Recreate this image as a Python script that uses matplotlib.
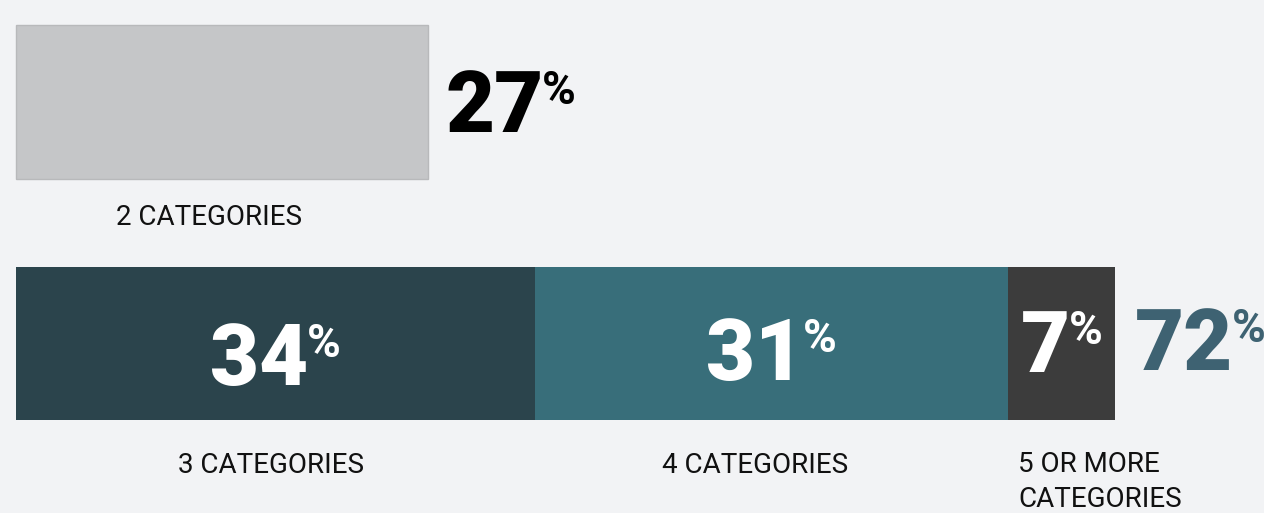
import matplotlib.pyplot as plt
from matplotlib.transforms import offset_copy

# share of respondents by number of categories
top_label = "2 CATEGORIES"
top_value = 27
segment_labels = ["3 CATEGORIES", "4 CATEGORIES", "5 OR MORE\nCATEGORIES"]
segment_values = [34, 31, 7]

BG = "#f2f3f5"
TOP_COLOR = "#c5c6c8"
SEGMENT_COLORS = ["#2b444c", "#386e7a", "#3c3c3c"]
TOTAL_COLOR = "#3e6272"
LABEL_FONT = ["Roboto", "DejaVu Sans"]
NUM_FONT = ["Roboto", "DejaVu Sans"]

PX_PER_PCT = 1099 / 72

fig = plt.figure(figsize=(12.64, 5.13), dpi=100, facecolor=BG)
ax = fig.add_axes([0, 0, 1, 1])
ax.set_facecolor(BG)
# x in percent, y in pixels from the top
ax.set_xlim(-16 / PX_PER_PCT, (1264 - 16) / PX_PER_PCT)
ax.set_ylim(513, 0)
ax.axis("off")

renderer = fig.canvas.get_renderer()


def pct_label(x, baseline, value, color, ha="center", pad=0):
    # big number followed by a small raised percent sign
    num = ax.text(x, baseline, str(value), fontsize=61, fontweight="black",
                  family=NUM_FONT, color=color, va="baseline", ha="left")
    sign = ax.text(x, baseline, "%", fontsize=33, fontweight="bold",
                   family=NUM_FONT, color=color, va="baseline", ha="left")
    w_num = num.get_window_extent(renderer).width - 1
    w_sign = sign.get_window_extent(renderer).width
    dx = -(w_num + w_sign) / 2 if ha == "center" else pad
    num.set_transform(offset_copy(ax.transData, fig, x=dx, y=0, units="dots"))
    sign.set_transform(offset_copy(ax.transData, fig, x=dx + w_num, y=28,
                                   units="dots"))


def cat_label(x, y, text, ha="center", dx=0):
    ax.annotate(text, (x, y), xytext=(dx * 0.72, 0),
                textcoords="offset points", fontsize=20, family=LABEL_FONT,
                color="#111111", ha=ha, va="top", linespacing=1.38)


# top bar: two categories
ax.barh(102, top_value, height=154, left=0, color=TOP_COLOR,
        edgecolor="#b8b9bb", linewidth=1)
pct_label(top_value, 132, top_value, "#000000", ha="left", pad=17)
cat_label(top_value / 2, 204, top_label, dx=-13)

# bottom stacked bar: three or more categories
baselines = [385, 380, 372]
label_shift = [-4, -17, 10]
left = 0
for i, (lab, val) in enumerate(zip(segment_labels, segment_values)):
    ax.barh(343.5, val, height=153, left=left, color=SEGMENT_COLORS[i],
            linewidth=0)
    pct_label(left + val / 2, baselines[i], val, "white")
    if "\n" in lab:
        cat_label(left, 451, lab, ha="left", dx=label_shift[i])
    else:
        cat_label(left + val / 2, 452, lab, dx=label_shift[i])
    left += val

# total of the three-or-more segments
total = sum(segment_values)
pct_label(total, 370, total, TOTAL_COLOR, ha="left", pad=20)

fig.savefig("out.png", dpi=100, facecolor=BG)
